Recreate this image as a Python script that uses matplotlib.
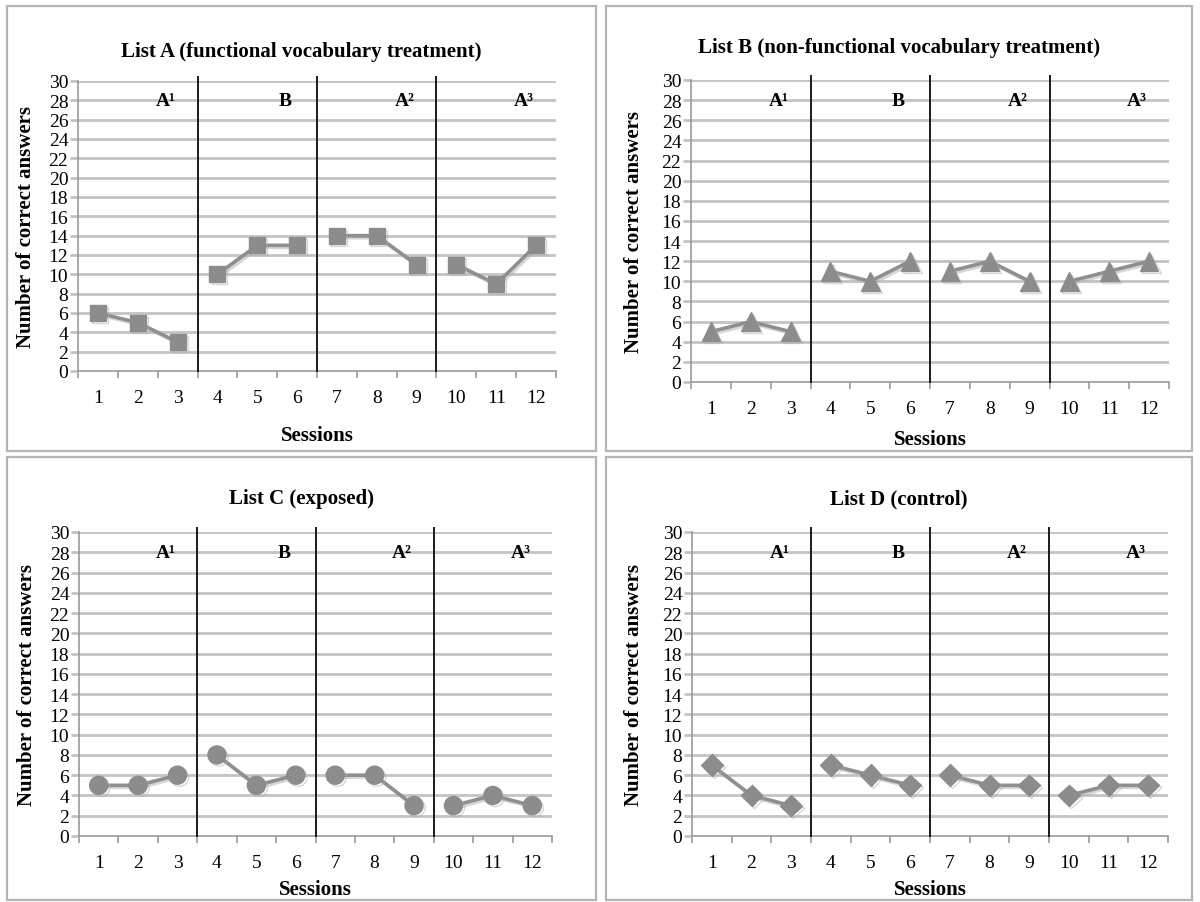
"""Four single-case design panels: correct answers per session for lists A-D."""

import matplotlib.pyplot as plt
import matplotlib.patheffects as pe
from matplotlib.patches import Rectangle

plt.rcParams['font.family'] = ['Liberation Serif', 'DejaVu Serif']

sessions = list(range(1, 13))
phase_labels = ['A¹', 'B', 'A²', 'A³']
phase_sizes = [3, 3, 3, 3]

titles = [
    'List A (functional vocabulary treatment)',
    'List B (non-functional vocabulary treatment)',
    'List C (exposed)',
    'List D (control)',
]
list_a = [6, 5, 3, 10, 13, 13, 14, 14, 11, 11, 9, 13]
list_b = [5, 6, 5, 11, 10, 12, 11, 12, 10, 10, 11, 12]
list_c = [5, 5, 6, 8, 5, 6, 6, 6, 3, 3, 4, 3]
list_d = [7, 4, 3, 7, 6, 5, 6, 5, 5, 4, 5, 5]
series = [list_a, list_b, list_c, list_d]
markers = ['s', '^', 'o', 'D']
marker_sizes = [11.5, 13.5, 13, 11]

W, H = 1200, 903
fig = plt.figure(figsize=(W / 100, H / 100), dpi=100)

# panel frames and plot areas, in pixels (left, top, right, bottom)
frames = [(7, 7, 596, 452), (606, 7, 1192, 452),
          (7, 458, 596, 901), (606, 458, 1192, 901)]
areas = [(78, 82, 556, 372), (691, 81, 1169, 383),
         (79, 533, 552, 837), (692, 533, 1168, 837)]
title_y = [52, 48, 499, 499]
xlabel_y = [436, 440, 890, 890]
ylabel_x = [26, 634, 27, 634]

GRID = '#c3c3c3'
AXIS = '#9a9a9a'
LINE = '#8f8f8f'


def px(x, y):
    return x / W, 1 - y / H


for i in range(4):
    fl, ft, fr, fb = frames[i]
    fig.patches.append(Rectangle(px(fl, fb), (fr - fl) / W, (fb - ft) / H,
                                 transform=fig.transFigure, fill=False,
                                 edgecolor='#b5b5b5', linewidth=1.6))

    l, t, r, b = areas[i]
    ax = fig.add_axes([l / W, 1 - b / H, (r - l) / W, (b - t) / H])
    ax.set_xlim(0.5, 12.5)
    ax.set_ylim(0, 30)

    for y in range(2, 31, 2):
        ax.axhline(y, color=GRID, linewidth=2.0, zorder=1)

    for s in ['top', 'right']:
        ax.spines[s].set_visible(False)
    for s in ['left', 'bottom']:
        ax.spines[s].set_color(AXIS)
        ax.spines[s].set_linewidth(1.2)

    ax.set_yticks(range(0, 31, 2))
    ax.tick_params(axis='y', length=6, width=2.0, color=GRID, pad=1,
                   labelsize=14)
    ax.set_xticks(sessions)
    ax.set_xticks([s + 0.5 for s in range(0, 13)], minor=True)
    ax.tick_params(axis='x', which='major', length=0, pad=13, labelsize=14)
    ax.tick_params(axis='x', which='minor', length=5, width=1.2, color=AXIS)

    # phase separators and phase names
    start = 0
    for k, n in enumerate(phase_sizes):
        xs = sessions[start:start + n]
        ys = series[i][start:start + n]
        ax.plot(xs, ys, color=LINE, linewidth=2.6, marker=markers[i],
                markersize=marker_sizes[i], markerfacecolor='#8c8c8c',
                markeredgecolor='#8c8c8c', zorder=3,
                path_effects=[pe.SimpleLineShadow(offset=(1.5, -1.5),
                                                  shadow_color='#b0b0b0',
                                                  alpha=0.5),
                              pe.Normal()])
        ax.text(start + n - 0.3, 28, phase_labels[k], ha='center',
                va='center', fontsize=14, fontweight='bold', zorder=4)
        start += n
        if k < len(phase_sizes) - 1:
            ax.plot([start + 0.5, start + 0.5], [0, 30.4], color='#1a1a1a',
                    linewidth=1.4, clip_on=False, zorder=4)

    fx, fy = px((fl + fr) / 2, title_y[i])
    fig.text(fx, fy, titles[i], ha='center', va='center', fontsize=15,
             fontweight='bold')
    fx, fy = px((l + r) / 2, xlabel_y[i])
    fig.text(fx, fy, 'Sessions', ha='center', va='center', fontsize=15,
             fontweight='bold')
    fx, fy = px(ylabel_x[i], (t + b) / 2)
    fig.text(fx, fy, 'Number of correct answers', ha='center', va='center',
             rotation=90, fontsize=15, fontweight='bold')

fig.savefig('out.png', dpi=100)
